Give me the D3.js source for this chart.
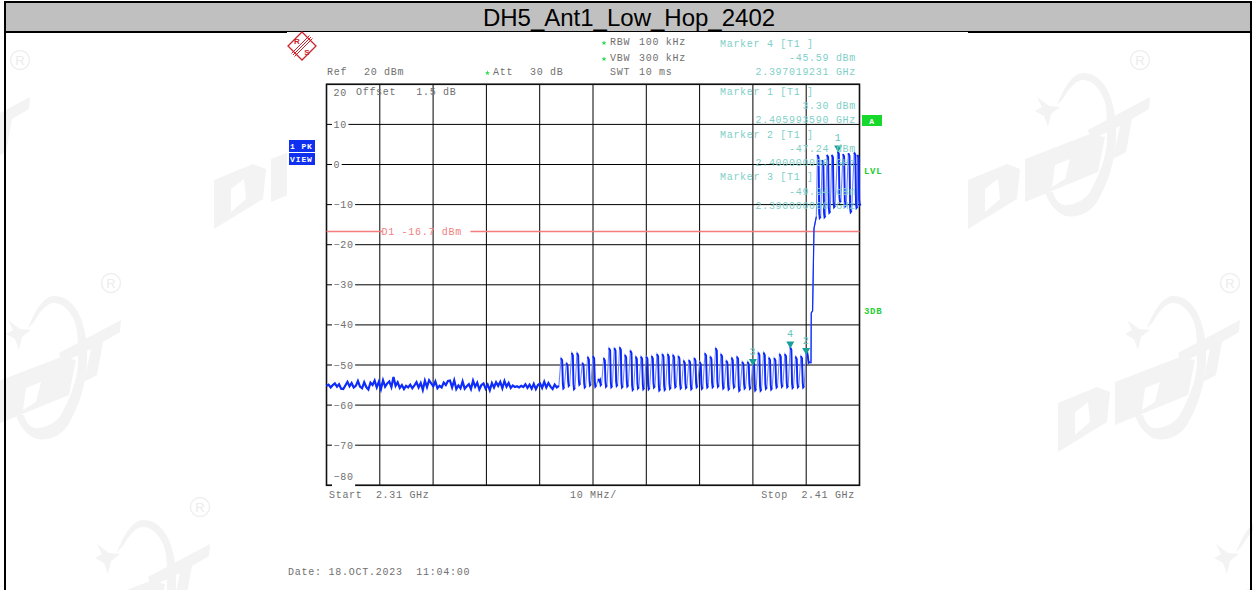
<!DOCTYPE html>
<html>
<head>
  <meta charset="utf-8">
  <script src="https://cdnjs.cloudflare.com/ajax/libs/d3/7.8.5/d3.min.js"></script>
  <style>
body { margin: 0; background: #fff; }
svg { display: block; }
.mono {
  font-family: "Liberation Mono", monospace;
  font-size: 10px;
  letter-spacing: .7px;
  white-space: pre;
}
.grid line { stroke: #000; stroke-width: 1px; }
.grid .domain { display: none; }
  </style>
</head>
<body>
  <svg width="1253" height="590"></svg>
  <script>

const title = "DH5_Ant1_Low_Hop_2402";

// frequency in MHz, level in dBm
const freqTicks = [2310, 2320, 2330, 2340, 2350, 2360, 2370, 2380, 2390, 2400, 2410];
const levelTicks = [20, 10, 0, -10, -20, -30, -40, -50, -60, -70, -80];

const displayLine = -16.7;

// noise floor up to the first hop
const floorLevels = [
  -55.2, -54.9, -55.6, -55.0, -54.6, -55.4, -54.8, -55.9, -56.0, -55.1, -54.2, -55.3, -54.5, -55.6, -55.2, -54.0,
  -55.4, -55.8, -54.3, -55.5, -56.1, -54.4, -55.0, -53.9, -55.6, -54.2, -56.0, -53.8, -55.4, -54.6, -54.1, -55.5,
  -53.0, -55.2, -54.3, -55.7, -55.0, -56.0, -55.2, -55.6, -54.9, -55.8, -55.1, -54.3, -55.6, -54.5, -56.2, -53.9,
  -55.5, -53.8, -54.6, -55.3, -54.1, -55.8, -55.2, -55.6, -54.4, -55.0, -54.0, -53.9, -55.6, -53.8, -56.0, -55.1,
  -55.8, -54.1, -55.9, -55.3, -54.8, -56.0, -53.9, -55.4, -54.4, -56.1, -55.0, -54.6, -55.9, -54.9, -56.3, -54.5,
  -55.6, -54.3, -55.2, -54.2, -55.8, -54.0, -55.4, -54.5, -55.7, -55.1, -55.5, -55.3, -55.6, -55.2, -55.5, -54.8,
  -55.7, -54.9, -55.9, -54.7, -56.0, -55.0, -54.6, -55.7, -54.2, -55.6, -54.5, -55.4, -56.0, -54.9, -55.6, -55.2
];

// hop channels below the band edge
const lowChannels = [
  2354, 2355, 2356, 2357, 2358, 2359, 2360, 2361, 2362, 2363, 2364, 2365, 2366, 2367, 2368, 2369,
  2370, 2371, 2372, 2373, 2374, 2375, 2376, 2377, 2378, 2379, 2380, 2381, 2382, 2383, 2384, 2385,
  2386, 2387, 2388, 2389, 2390, 2391, 2392, 2393, 2394, 2395, 2396, 2397, 2398, 2399, 2400
];
const lowPeaks = [
  -48.3, -49.5, -47.0, -47.0, -49.5, -48.0, -47.8, -53.5, -48.3, -45.8, -45.8, -45.6, -47.5, -46.4, -47.9, -47.9,
  -47.9, -47.8, -47.3, -47.3, -47.3, -47.5, -47.8, -48.9, -48.8, -48.3, -49.2, -47.1, -47.9, -45.8, -47.3, -48.9,
  -48.2, -47.9, -49.2, -49.2, -48.8, -46.9, -46.9, -48.2, -48.3, -47.3, -47.3, -45.6, -47.9, -47.8, -46.4
];
const lowTroughs = [
  -55.8, -55.2, -56.0, -54.9, -55.6, -55.1, -55.4, -55.0, -55.4, -55.5, -55.2, -55.6, -55.3, -56.2, -55.8, -56.0,
  -56.0, -55.6, -56.3, -56.2, -55.9, -55.5, -55.8, -55.7, -56.0, -55.5, -55.9, -55.6, -55.5, -55.4, -55.8, -56.1,
  -55.6, -56.4, -55.8, -55.9, -56.3, -56.4, -55.9, -56.1, -55.6, -55.4, -55.5, -55.7, -55.5, -55.6, -49.4
];

// climb through the band edge
const edgeFreqs = [2400.5, 2400.9, 2400.95, 2401.2, 2401.46, 2401.9];
const edgeLevels = [-49.4, -49.4, -37.0, -36.5, -16.0, -13.0];

// hop channels inside the band
const highChannels = [2402.1, 2403.0, 2403.9, 2404.8, 2405.9, 2406.9, 2407.9, 2409.0, 2409.6];
const highPeaks = [2.4, 1.1, 2.4, 2.4, 3.3, 2.6, 2.8, 3.0, 2.4];
const highTroughs = [-13.3, -13.1, -12.0, -10.6, -9.4, -10.4, -11.9, -10.8, -10.1];

const markerIds = ["1", "2", "3", "4"];
const markerFreqs = [2405.99359, 2400.0, 2390.0, 2397.019231];
const markerLevels = [3.30, -47.24, -49.94, -45.59];

// watermark origins, taken at the registered mark of each logo
const logoX = [20, 1140, 111, 1230, 200, 1319];
const logoY = [60, 60, 283, 283, 507, 507];

const plotLeft = 326.5, plotRight = 859.5, plotTop = 84.3, plotBottom = 485.3;

var svg = d3.select("svg");

var x = d3.scaleLinear().domain([2310, 2410]).range([plotLeft, plotRight]);
var y = d3.scaleLinear().domain([20, -80]).range([plotTop, plotBottom]);

// watermark, the screenshot of the analyser sits on top of it
var logoOutline = "M-83 45C-75 25 -66 13 -57 13C-40 13 -30 29 -26 50C-21 75 -24 110 -43 142C-52 155 -66 159 -77 155C-86 150 -92 142 -95 132L-87 132C-84 142 -79 146 -73 145C-62 144 -54 138 -50 132C-38 110 -32 90 -33 75C-33 55 -33 44 -38 35C-43 25 -50 20 -57 20C-64 20 -71 28 -77 39Z";
var logoStar = "M-103 37L-91 46L-80 47L-89 54L-92 67L-96 56L-105 51L-98 47Z";
var logoT = "M-52 70L10 37L9 49L-8 59L-14 92L-27 99L-20 66L-49 80Z";
var logoD1 = "M-172 120L-133 104L-120 109L-123 139L-172 169ZM-155 129L-142 119L-140 139L-155 152Z";
var logoD2 = "M-115 99L-50 74L-35 77L-42 112L-115 142ZM-85 105L-70 99L-75 119L-88 127Z";

var marks = svg.append("g").attr("class", "watermark");
logoX.forEach((lx, i) => {
  var g = marks.append("g").attr("transform", `translate(${lx},${logoY[i]})`);
  [logoOutline, logoStar, logoT, logoD1, logoD2].forEach(p => {
    g.append("path").attr("d", p).attr("fill", "#f3f3f3").attr("fill-rule", "evenodd");
  });
  if (lx < 1240) {
    g.append("circle").attr("r", 9.5).attr("fill", "none").attr("stroke", "#f0f0f0").attr("stroke-width", 1.6);
    g.append("text").attr("y", 4.5).attr("text-anchor", "middle")
      .attr("font-family", "Liberation Sans").attr("font-size", 13).attr("fill", "#ececec").text("R");
  }
});

// the logo behind the screenshot only shows its first letters
[logoD1, logoD2].forEach(p => {
  marks.append("path")
    .attr("transform", "translate(386,60)")
    .attr("d", p)
    .attr("fill", "#f3f3f3").attr("fill-rule", "evenodd");
});

// analyser screenshot background
svg.append("rect").attr("x", 287).attr("y", 32).attr("width", 681).attr("height", 558).attr("fill", "#fff");

// page frame and title bar
svg.append("rect").attr("x", 6).attr("y", 3).attr("width", 1244).attr("height", 28).attr("fill", "#c0c0c0");
svg.append("rect").attr("x", 4).attr("y", 1).attr("width", 1248).attr("height", 2).attr("fill", "#000");
svg.append("rect").attr("x", 4).attr("y", 31).attr("width", 283).attr("height", 2).attr("fill", "#000");
svg.append("rect").attr("x", 287).attr("y", 31).attr("width", 681).attr("height", 1).attr("fill", "#000");
svg.append("rect").attr("x", 968).attr("y", 31).attr("width", 284).attr("height", 2).attr("fill", "#000");
svg.append("rect").attr("x", 4).attr("y", 1).attr("width", 2).attr("height", 589).attr("fill", "#000");
svg.append("rect").attr("x", 1250).attr("y", 1).attr("width", 2).attr("height", 589).attr("fill", "#000");

svg.append("text")
  .attr("x", 629).attr("y", 26)
  .attr("text-anchor", "middle")
  .attr("font-family", "Liberation Sans")
  .attr("font-size", 24)
  .attr("fill", "#000")
  .text(title);

// grid
var gridX = svg.append("g")
  .attr("class", "grid")
  .attr("transform", `translate(0,${plotBottom})`)
  .call(d3.axisBottom(x).tickValues(freqTicks).tickSize(-(plotBottom - plotTop)).tickFormat("").offset(0));

var gridY = svg.append("g")
  .attr("class", "grid")
  .attr("transform", `translate(${plotLeft},0)`)
  .call(d3.axisRight(y).tickValues(levelTicks).tickSize(plotRight - plotLeft).tickFormat("").offset(0));

svg.append("rect")
  .attr("x", plotLeft).attr("y", plotTop)
  .attr("width", plotRight - plotLeft).attr("height", plotBottom - plotTop)
  .attr("fill", "none").attr("stroke", "#111").attr("stroke-width", 1.6);

function label(t, px, py, color, anchor) {
  return svg.append("text")
    .attr("class", "mono")
    .attr("x", px).attr("y", py)
    .attr("fill", color)
    .attr("text-anchor", anchor || "start")
    .text(t);
}

// level labels interrupt the grid lines
const grey = "#707070";
levelTicks.forEach(v => {
  var t = v < 0 ? "\u2212" + (-v) : "" + v;
  var w = t.length * 6.7;
  if (v != 20) {
    svg.append("rect").attr("x", 332).attr("y", y(v) - 4).attr("width", w + 3).attr("height", 8).attr("fill", "#fff");
  }
  label(t, 333.5, v == 20 ? y(v) + 12 : v == -80 ? y(v) - 5 : y(v) + 3.5, grey);
});

// display line with its label
svg.append("line")
  .attr("x1", plotLeft).attr("x2", x(2320.5))
  .attr("y1", y(displayLine)).attr("y2", y(displayLine))
  .attr("stroke", "#f47c7c").attr("stroke-width", 1.4);
svg.append("line")
  .attr("x1", x(2337)).attr("x2", plotRight)
  .attr("y1", y(displayLine)).attr("y2", y(displayLine))
  .attr("stroke", "#f47c7c").attr("stroke-width", 1.4);
label("D1 -16.7 dBm", 381.5, y(displayLine) + 3.5, "#f08080");

// trace: thin line for the whole sweep, heavier on the falling part of each hop
var line = d3.line().x(d => x(d[0])).y(d => y(d[1]));

var floorIndex = d3.scaleLinear().domain([0, floorLevels.length - 1]).range([2310, 2353.6]);
var floorPts = floorLevels.map((v, i) => [floorIndex(i), v]);
var edgePts = edgeFreqs.map((f, i) => [f, edgeLevels[i]]);

var thin = floorPts.slice(), heavy = [];

function addHops(channels, peaks, troughs) {
  channels.forEach((f, i) => {
    var top = [[f, peaks[i]], [f + 0.22, peaks[i] - 0.6]];
    var fall = [[f + 0.34, troughs[i] + 1.2], [f + 0.44, troughs[i]], [f + 0.62, troughs[i] + 0.3]];
    thin = thin.concat(top, fall);
    heavy.push(top.concat(fall));
  });
}

addHops(lowChannels, lowPeaks, lowTroughs);
thin = thin.concat(edgePts);
addHops(highChannels, highPeaks, highTroughs);

svg.append("path")
  .datum(thin)
  .attr("d", line)
  .attr("fill", "none").attr("stroke", "#6f88fb").attr("stroke-width", 1.1);

svg.append("path")
  .datum(floorPts)
  .attr("d", line)
  .attr("fill", "none").attr("stroke", "#0f2cf8").attr("stroke-width", 2.2);

svg.append("path")
  .datum(edgePts)
  .attr("d", line)
  .attr("fill", "none").attr("stroke", "#0f2cf8").attr("stroke-width", 1.2);

svg.append("g").selectAll("path")
  .data(heavy)
  .enter().append("path")
  .attr("d", line)
  .attr("fill", "none").attr("stroke", "#0a26fa").attr("stroke-width", 1.9);

// markers
markerIds.forEach((id, i) => {
  var mx = x(markerFreqs[i]), my = y(markerLevels[i]);
  svg.append("path")
    .attr("d", d3.symbol().type(d3.symbolTriangle).size(28))
    .attr("transform", `translate(${mx},${my - 3.5}) rotate(180)`)
    .attr("fill", "#18a098");
  label(id, mx, my - 10, "#62c4bc", "middle");
});

// header text above the graticule
const teal = "#7fcfc8";
label("Ref", 327, 75, grey);
label("20 dBm", 364, 75, grey);
label("Att", 493, 75, grey);
label("30 dB", 530, 75, grey);
label("RBW", 610, 45, grey);
label("100 kHz", 639, 45, grey);
label("VBW", 610, 61, grey);
label("300 kHz", 639, 61, grey);
label("SWT", 610, 75, grey);
label("10 ms", 639, 75, grey);
label("Offset   1.5 dB", 356, 95, grey);

[[487.5, 73], [604, 43], [604, 59]].forEach(s => {
  svg.append("path")
    .attr("d", d3.symbol().type(d3.symbolStar).size(8))
    .attr("transform", `translate(${s[0]},${s[1]})`)
    .attr("fill", "#22dd44");
});

label("Marker 4 [T1 ]", 720, 47, teal);
label("-45.59 dBm", 856, 61, teal, "end");
label("2.397019231 GHz", 856, 75, teal, "end");
label("Marker 1 [T1 ]", 720, 95, teal);
label("3.30 dBm", 856, 109, teal, "end");
label("2.405993590 GHz", 856, 123, teal, "end");
label("Marker 2 [T1 ]", 720, 138, teal);
label("-47.24 dBm", 856, 152, teal, "end");
label("2.400000000 GHz", 856, 166, teal, "end");
label("Marker 3 [T1 ]", 720, 180, teal);
label("-49.94 dBm", 856, 195, teal, "end");
label("2.390000000 GHz", 856, 209, teal, "end");

label("Start  2.31 GHz", 329, 498, grey);
label("10 MHz/", 570, 498, grey);
label("Stop  2.41 GHz", 855, 498, grey, "end");
label("Date: 18.OCT.2023  11:04:00", 288, 575, grey).style("letter-spacing", ".75px");

// side badges
svg.append("rect").attr("x", 289).attr("y", 140).attr("width", 26).attr("height", 12).attr("fill", "#1030f0");
svg.append("rect").attr("x", 289).attr("y", 153).attr("width", 26).attr("height", 12).attr("fill", "#1030f0");
label("1 PK", 290, 149, "#fff").style("font-size", "8px").style("letter-spacing", ".9px").style("font-weight", "bold");
label("VIEW", 290, 162, "#fff").style("font-size", "8px").style("letter-spacing", ".9px").style("font-weight", "bold");

svg.append("rect").attr("x", 862).attr("y", 115).attr("width", 20).attr("height", 11).attr("fill", "#16d92c");
label("A", 872, 124, "#fff", "middle").style("font-size", "8px").style("font-weight", "bold");
label("LVL", 864, 174, "#22cc33").style("font-size", "9px").style("font-weight", "bold");
label("3DB", 864, 314, "#22cc33").style("font-size", "9px").style("font-weight", "bold");

// R&S logo
var rs = svg.append("g").attr("transform", "translate(302,46)");
rs.append("path").attr("d", "M0 -14L14 0L0 14L-14 0Z").attr("fill", "#fff").attr("stroke", "#c8242c").attr("stroke-width", 1.3);
rs.append("path").attr("d", "M-9 9L9 -9M-7.5 10.5L10.5 -7.5M-10.5 7.5L7.5 -10.5").attr("stroke", "#c8242c").attr("stroke-width", 1).attr("fill", "none");
rs.append("text").attr("x", -5).attr("y", -2.5).attr("text-anchor", "middle").attr("font-family", "Liberation Sans").attr("font-weight", "bold").attr("font-size", 8).attr("fill", "#c8242c").text("R");
rs.append("text").attr("x", 5).attr("y", 9).attr("text-anchor", "middle").attr("font-family", "Liberation Sans").attr("font-weight", "bold").attr("font-size", 8).attr("fill", "#c8242c").text("S");

</script>
</body>
</html>
